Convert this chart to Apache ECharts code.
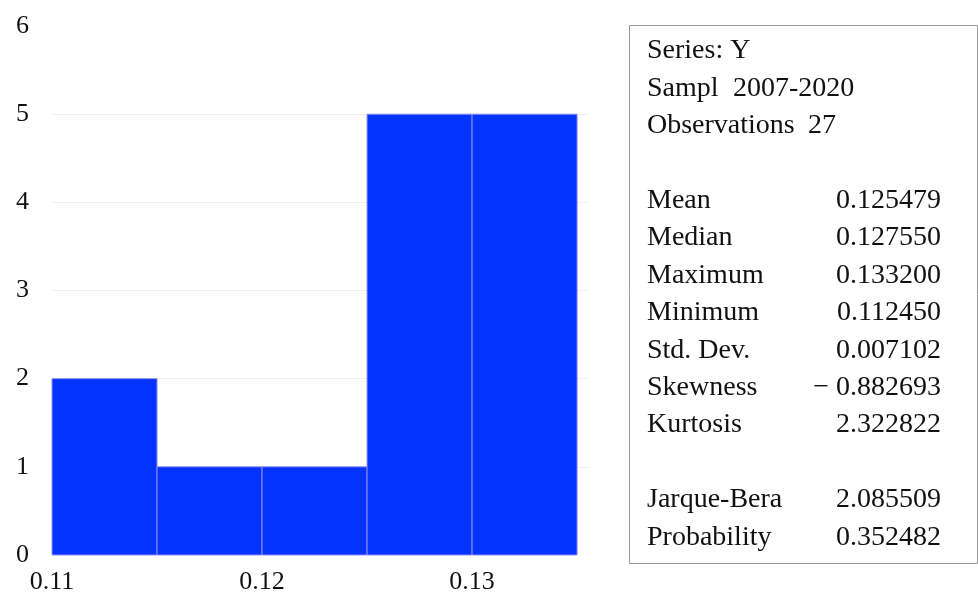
<!DOCTYPE html>
<html>
<head>
<meta charset="utf-8">
<script src="https://cdn.jsdelivr.net/npm/echarts@6/dist/echarts.min.js"></script>
<style>html,body{margin:0;padding:0;background:#fff}#c{width:978px;height:596px}</style>
</head>
<body>
<div id="c"></div>
<script>
// Histogram data
var binStarts = [0.110, 0.115, 0.120, 0.125, 0.130];
var binWidth = 0.005;
var counts = [2, 1, 1, 5, 5];

// Stats box text
var headerLabels = ['Series: Y', 'Sampl', 'Observations'];
var headerValues = ['', '2007-2020', '27'];
var statLabels = ['Mean', 'Median', 'Maximum', 'Minimum', 'Std. Dev.', 'Skewness', 'Kurtosis'];
var statValues = ['0.125479', '0.127550', '0.133200', '0.112450', '0.007102', '\u2212 0.882693', '2.322822'];
var testLabels = ['Jarque-Bera', 'Probability'];
var testValues = ['2.085509', '0.352482'];

var FONT = '"Liberation Serif", "Times New Roman", serif';
var chart = echarts.init(document.getElementById('c'), null, {renderer: 'canvas'});

var data = binStarts.map(function (s, i) { return [s, s + binWidth, counts[i]]; });

var graphics = [];
var boxLeft = 629, boxTop = 25, boxW = 348, boxH = 538;
graphics.push({type: 'rect', left: boxLeft, top: boxTop, shape: {width: boxW, height: boxH},
  style: {fill: '#fff', stroke: '#9a9a9a', lineWidth: 1}});
var rowY0 = 51, rowStep = 37.4, labX = 647, valRight = 941, FS = 28;
function addRow(idx, lab, val, valLeftX) {
  var y = rowY0 + idx * rowStep;
  graphics.push({type: 'text', x: labX, y: y, style: {text: lab, font: FS + 'px ' + FONT, fill: '#111', textVerticalAlign: 'middle', textAlign: 'left'}});
  if (val) {
    if (valLeftX) {
      graphics.push({type: 'text', x: valLeftX, y: y, style: {text: val, font: FS + 'px ' + FONT, fill: '#111', textVerticalAlign: 'middle', textAlign: 'left'}});
    } else {
      graphics.push({type: 'text', x: valRight, y: y, style: {text: val, font: FS + 'px ' + FONT, fill: '#111', textVerticalAlign: 'middle', textAlign: 'right'}});
    }
  }
}
addRow(0, headerLabels[0], headerValues[0]);
addRow(1, headerLabels[1], headerValues[1], 733);
addRow(2, headerLabels[2], headerValues[2], 808);
statLabels.forEach(function (l, i) { addRow(4 + i, l, statValues[i]); });
testLabels.forEach(function (l, i) { addRow(12 + i, l, testValues[i]); });

var T = 'rgba(0,0,0,0)';
chart.setOption({
  animation: false,
  backgroundColor: '#fff',
  grid: {left: 52, right: 390, top: 26, bottom: 41, containLabel: false},
  xAxis: {
    type: 'value', min: 0.11, max: 0.13552, interval: 0.01,
    axisLine: {show: false}, axisTick: {show: false}, splitLine: {show: false},
    axisLabel: {showMaxLabel: false, margin: 14, color: '#111', fontFamily: FONT, fontSize: 26,
      formatter: function (v) { return v.toFixed(2); }}
  },
  yAxis: {
    type: 'value', min: 0, max: 6, interval: 1,
    axisLine: {show: false}, axisTick: {show: false},
    splitLine: {show: true, lineStyle: {color: [T, '#eeeeee', '#eeeeee', '#eeeeee', '#eeeeee', '#eeeeee', T], width: 1}},
    axisLabel: {margin: 23, color: '#111', fontFamily: FONT, fontSize: 26}
  },
  series: [{
    type: 'custom',
    data: data,
    encode: {x: [0, 1], y: 2},
    renderItem: function (params, api) {
      var p0 = api.coord([api.value(0), api.value(2)]);
      var p1 = api.coord([api.value(1), 0]);
      return {
        type: 'rect',
        shape: {x: p0[0], y: p0[1], width: p1[0] - p0[0], height: p1[1] - p0[1]},
        style: {fill: '#0432ff', stroke: '#8f8fe8', lineWidth: 1}
      };
    }
  }],
  graphic: graphics
});
</script>
</body>
</html>
